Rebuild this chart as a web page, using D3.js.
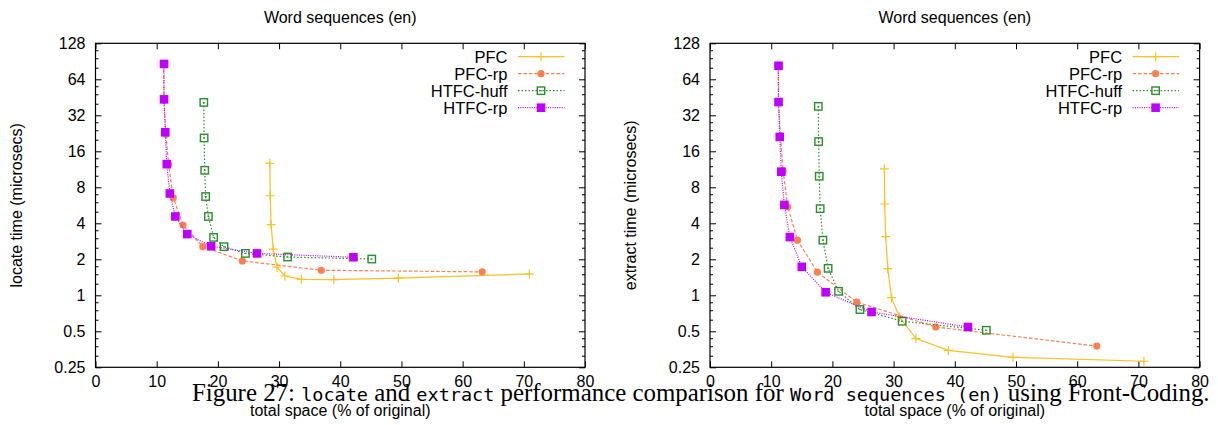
<!DOCTYPE html>
<html>
<head>
<meta charset="utf-8">
<script src="https://cdn.jsdelivr.net/npm/d3@7/dist/d3.min.js"></script>
<style>
  body { margin: 0; background: #fff; }
  svg text { font-family: "Liberation Sans", Arial, sans-serif; fill: #000; }
</style>
</head>
<body>
<div id="chart"></div>
<script>
// series labels
var seriesNames = ["PFC", "PFC-rp", "HTFC-huff", "HTFC-rp"];

// total space (% of original), shared by both panels
var pfcSpace = [28.5, 28.55, 28.7, 29.05, 29.65, 30.95, 33.65, 38.95, 49.5, 70.9];
var pfcrpSpace = [11.1, 11.2, 11.5, 11.95, 12.7, 14.3, 17.55, 24.0, 36.9, 63.2];
var htfcHuffSpace = [17.7, 17.75, 17.85, 18.0, 18.45, 19.3, 21.0, 24.5, 31.4, 45.15];
var htfcRpSpace = [11.2, 11.2, 11.4, 11.65, 12.15, 13.05, 15.0, 18.9, 26.4, 42.15];

// locate time (microsecs)
var pfcLocate = [12.7, 6.8, 3.9, 2.43, 1.72, 1.45, 1.36, 1.35, 1.39, 1.51];
var pfcrpLocate = [86, 43, 22.2, 12.4, 6.55, 3.87, 2.55, 1.94, 1.62, 1.57];
var htfcHuffLocate = [41, 20.7, 11.1, 6.7, 4.56, 3.05, 2.55, 2.24, 2.09, 2.01];
var htfcRpLocate = [86, 43.5, 23.1, 12.5, 7.1, 4.56, 3.25, 2.57, 2.24, 2.08];

// extract time (microsecs)
var pfcExtract = [11.4, 5.8, 3.1, 1.67, 0.955, 0.66, 0.435, 0.346, 0.303, 0.281];
var pfcrpExtract = [83, 41.5, 21.5, 11.0, 5.5, 2.89, 1.56, 0.876, 0.543, 0.376];
var htfcHuffExtract = [38, 19.3, 9.9, 5.3, 2.89, 1.68, 1.08, 0.76, 0.607, 0.51];
var htfcRpExtract = [83, 41.3, 21.1, 10.8, 5.7, 3.07, 1.73, 1.06, 0.725, 0.543];

// ticks
var xTicks = [0, 10, 20, 30, 40, 50, 60, 70, 80];
var yTicks = [0.25, 0.5, 1, 2, 4, 8, 16, 32, 64, 128];
var yTickLabels = ["0.25", "0.5", "1", "2", "4", "8", "16", "32", "64", "128"];

var width = 1218, height = 425;
var fs = "16px";
var svg = d3.select("#chart").append("svg")
  .attr("width", width)
  .attr("height", height);

var styles = [
  { color: "#ffc020", dash: null, mark: "plus" },
  { color: "#ff7f50", dash: "3.5,2", mark: "circle" },
  { color: "#2a8f2a", dash: "1.5,2", mark: "box" },
  { color: "#c000ff", dash: "1,1.3", mark: "fbox" }
];

function drawMark(g, kind, color, cx, cy) {
  if (kind == "plus") {
    g.append("path")
      .attr("d", "M" + (cx - 4.5) + "," + cy + "h9M" + cx + "," + (cy - 4.5) + "v9")
      .attr("stroke", color).attr("stroke-width", 1.2).attr("fill", "none");
  } else if (kind == "circle") {
    g.append("circle").attr("cx", cx).attr("cy", cy).attr("r", 3.6).attr("fill", color);
  } else if (kind == "box") {
    g.append("rect").attr("x", cx - 3.7).attr("y", cy - 3.7).attr("width", 7.4).attr("height", 7.4)
      .attr("fill", "none").attr("stroke", color).attr("stroke-width", 1.4);
    g.append("rect").attr("x", cx - 1).attr("y", cy - 0.5).attr("width", 2).attr("height", 1).attr("fill", color);
  } else {
    g.append("rect").attr("x", cx - 4.3).attr("y", cy - 4.3).attr("width", 8.6).attr("height", 8.6).attr("fill", color);
  }
}

function panel(left, right, ylabel, values) {
  var top = 43.3, bottom = 367.3;
  var x = d3.scaleLinear().domain([0, 80]).range([left, right]);
  var y = d3.scaleLog().base(2).domain([0.25, 128]).range([bottom, top]);

  var minor = [];
  for (var k = -2; k < 7; k++) {
    [1.25, 1.5, 1.75].forEach(function(m) { minor.push(m * Math.pow(2, k)); });
  }

  var g = svg.append("g");

  // axes, ticks pointing inwards like gnuplot
  g.append("g").attr("transform", "translate(" + left + ",0)")
    .call(d3.axisLeft(y).tickValues(yTicks).tickSizeInner(-6).tickSizeOuter(0).tickPadding(10)
      .tickFormat(function(d, i) { return yTickLabels[i]; }));
  g.append("g").attr("transform", "translate(" + left + ",0)")
    .call(d3.axisLeft(y).tickValues(minor).tickSizeInner(-3).tickSizeOuter(0).tickFormat(""));
  g.append("g").attr("transform", "translate(" + right + ",0)")
    .call(d3.axisRight(y).tickValues(yTicks).tickSizeInner(-6).tickSizeOuter(0).tickFormat(""));
  g.append("g").attr("transform", "translate(" + right + ",0)")
    .call(d3.axisRight(y).tickValues(minor).tickSizeInner(-3).tickSizeOuter(0).tickFormat(""));
  g.append("g").attr("transform", "translate(0," + bottom + ")")
    .call(d3.axisBottom(x).tickValues(xTicks).tickSizeInner(-6).tickSizeOuter(0).tickPadding(8));
  g.append("g").attr("transform", "translate(0," + top + ")")
    .call(d3.axisTop(x).tickValues(xTicks).tickSizeInner(-6).tickSizeOuter(0).tickFormat(""));

  g.selectAll(".domain").remove();
  g.selectAll(".tick line").attr("stroke", "#000");
  g.selectAll(".tick text").style("font-size", fs).attr("fill", "#000");

  g.append("rect")
    .attr("x", left).attr("y", top)
    .attr("width", right - left).attr("height", bottom - top)
    .attr("fill", "none").attr("stroke", "#000").attr("stroke-width", 1.2);

  var cx = (left + right) / 2;
  g.append("text").attr("x", cx).attr("y", 23).attr("text-anchor", "middle")
    .style("font-size", fs).text("Word sequences (en)");
  g.append("text").attr("x", cx).attr("y", 416).attr("text-anchor", "middle")
    .style("font-size", fs).text("total space (% of original)");
  g.append("text")
    .attr("transform", "translate(" + (left - 74) + "," + ((top + bottom) / 2) + ") rotate(-90)")
    .attr("text-anchor", "middle").style("font-size", fs).text(ylabel);

  var spaces = [pfcSpace, pfcrpSpace, htfcHuffSpace, htfcRpSpace];
  var line = d3.line().x(function(d) { return x(d[0]); }).y(function(d) { return y(d[1]); });

  spaces.forEach(function(sp, s) {
    var st = styles[s];
    var pts = sp.map(function(v, i) { return [v, values[s][i]]; });
    var sg = g.append("g");
    sg.append("path").attr("d", line(pts))
      .attr("fill", "none").attr("stroke", st.color).attr("stroke-width", 1.2)
      .attr("stroke-dasharray", st.dash);
    pts.forEach(function(p) { drawMark(sg, st.mark, st.color, x(p[0]), y(p[1])); });
  });

  // legend
  seriesNames.forEach(function(name, s) {
    var st = styles[s];
    var ly = 56.7 + s * 17;
    g.append("text").attr("x", right - 77.5).attr("y", ly).attr("dy", "0.36em")
      .attr("text-anchor", "end").style("font-size", "16.5px").text(name);
    g.append("line").attr("x1", right - 67).attr("x2", right - 20.5).attr("y1", ly).attr("y2", ly)
      .attr("stroke", st.color).attr("stroke-width", 1.2).attr("stroke-dasharray", st.dash);
    drawMark(g, st.mark, st.color, right - 44, ly);
  });
}

panel(95.5, 585, "locate time (microsecs)", [pfcLocate, pfcrpLocate, htfcHuffLocate, htfcRpLocate]);
panel(710, 1199.6, "extract time (microsecs)", [pfcExtract, pfcrpExtract, htfcHuffExtract, htfcRpExtract]);

// figure caption, overlapping the x labels as in the source page
var caption = svg.append("text").attr("x", 192).attr("y", 401).attr("xml:space", "preserve")
  .style("font-family", "'Liberation Serif', 'Times New Roman', serif").style("font-size", "22px");
var parts = [
  ["Figure 27: ", false], ["locate", true], [" and ", false], ["extract", true],
  [" performance comparison for ", false], ["Word sequences (en)", true], [" using Front-Coding.", false]
];
var spans = parts.map(function(p) {
  var t = caption.append("tspan").text(p[0]);
  if (p[1]) t.style("font-family", "'DejaVu Sans Mono', 'Liberation Mono', monospace").style("font-size", "18.5px");
  return t;
});
// fit the roman part so the whole line spans the same width as the page caption
var monoW = 0, romanW = 0;
spans.forEach(function(t, i) {
  var w = t.node().getComputedTextLength();
  if (parts[i][1]) monoW += w; else romanW += w;
});
var romanSize = 22 * (1018 - monoW) / romanW;
spans.forEach(function(t, i) { if (!parts[i][1]) t.style("font-size", romanSize + "px"); });
</script>
</body>
</html>
